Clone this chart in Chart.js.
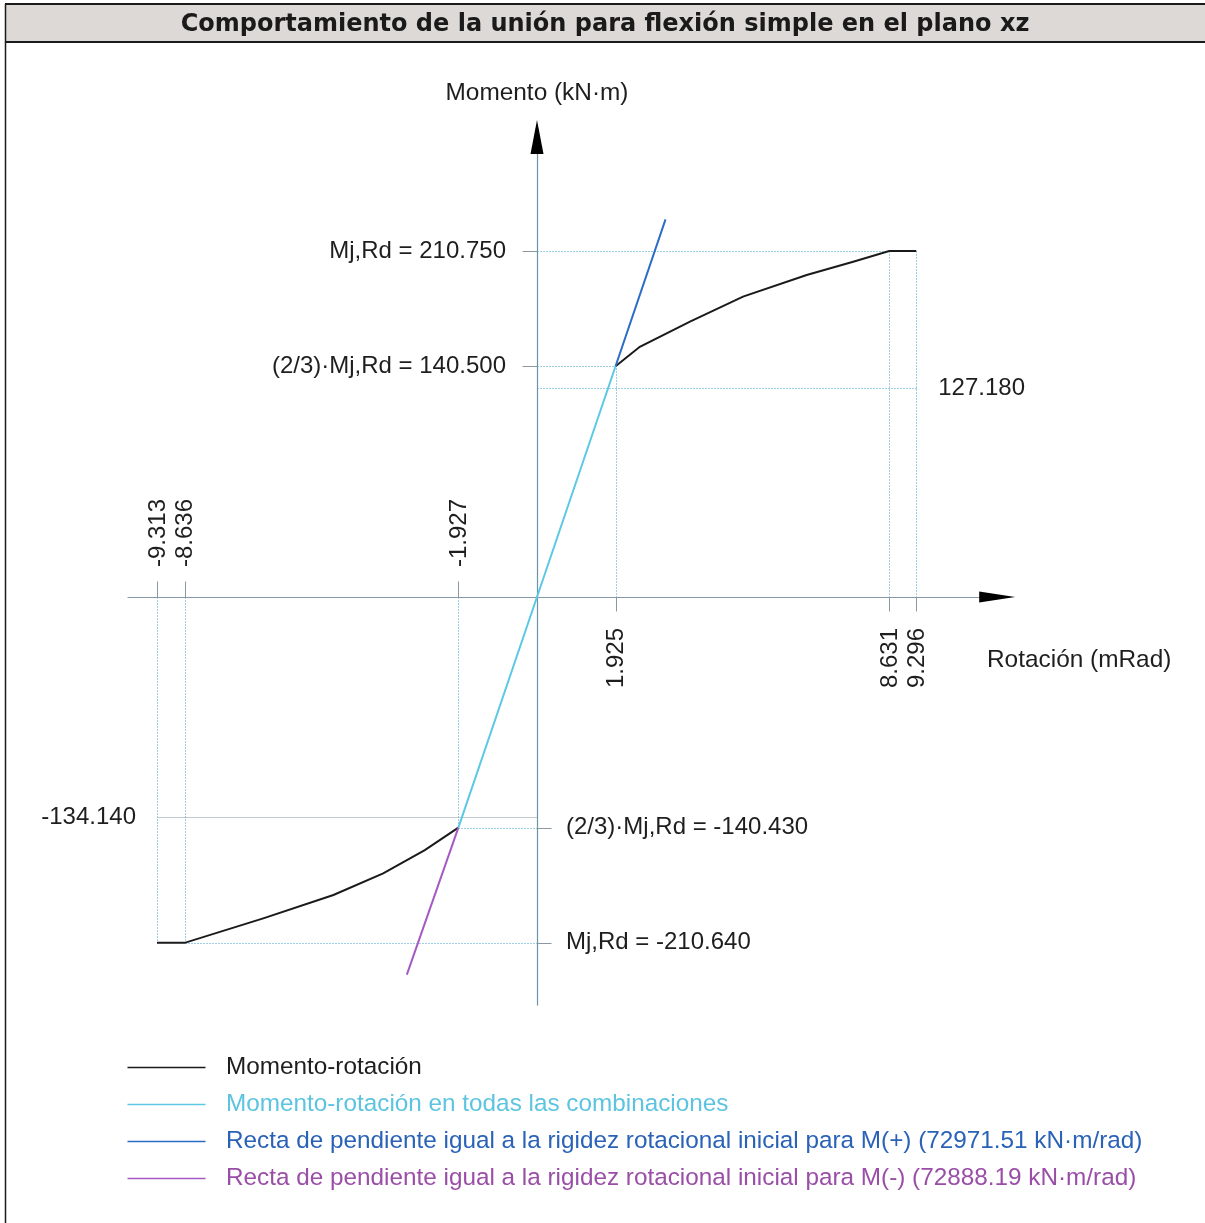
<!DOCTYPE html>
<html>
<head>
<meta charset="utf-8">
<script src="https://cdn.jsdelivr.net/npm/chart.js@4/dist/chart.umd.min.js"></script>
<style>
  html, body { margin: 0; padding: 0; background: #fff; overflow: hidden; }
  canvas { display: block; }
</style>
</head>
<body>
<canvas id="c" width="1205" height="1223"></canvas>
<script>
const titleText = 'Comportamiento de la unión para flexión simple en el plano xz';
const xAxisTitle = 'Rotación (mRad)';
const yAxisTitle = 'Momento (kN·m)';

// Moment–rotation curve (rotation in mRad, moment in kN·m)
const curvePosRot = [1.925, 2.52, 3.75, 5.05, 6.61, 7.75, 8.631, 9.296];
const curvePosMom = [140.5, 152.4, 167.7, 182.9, 196.1, 204.2, 210.75, 210.75];
const curveNegRot = [-1.927, -2.75, -3.77, -4.99, -6.71, -8.636, -9.313];
const curveNegMom = [-140.43, -154.2, -168.3, -181.5, -195.7, -210.64, -210.64];

// Elastic branch shared by all combinations
const elasticRot = [-1.927, 0, 1.925];
const elasticMom = [-140.43, 0, 140.5];

// Lines with slope equal to the initial rotational stiffness
const stiffPosRot = [1.925, 3.15];
const stiffPosMom = [140.5, 230.0];
const stiffNegRot = [-1.927, -3.19];
const stiffNegMom = [-140.43, -230.0];

// Rotation marks on the horizontal axis and the moment each one drops/rises to
const rotMarks = [-9.313, -8.636, -1.927, 1.925, 8.631, 9.296];
const rotMarkMoments = [-210.64, -210.64, -140.43, 140.5, 210.75, 210.75];

// Moment values marked on the vertical axis
const mjRdPos = 210.75;
const mjRd23Pos = 140.5;
const momPosElastic = 127.18;
const momNegElastic = -134.14;
const mjRd23Neg = -140.43;
const mjRdNeg = -210.64;

// Legend
const legendLabels = [
  'Momento-rotación',
  'Momento-rotación en todas las combinaciones',
  'Recta de pendiente igual a la rigidez rotacional inicial para M(+) (72971.51 kN·m/rad)',
  'Recta de pendiente igual a la rigidez rotacional inicial para M(-) (72888.19 kN·m/rad)'
];
const legendLineColors = ['#1a1a1a', '#5cc8e4', '#2b6cc6', '#a659c2'];
const legendTextColors = ['#1e1e1e', '#5cc4e0', '#2a62b8', '#9a4ea8'];

// Axis extents (data units)
const axisRotMin = -10.05, axisRotEnd = 11.72;
const axisMomMin = -248.5, axisMomEnd = 290.5;

const pts = (xs, ys) => xs.map((x, i) => ({ x: x, y: ys[i] }));

// pixel geometry of the plotting plane
const originX = 537, originY = 597;
const pxPerMRad = 40.8, pxPerKNm = 1.642;
const W = 1205, H = 1223;

const LABEL_FONT = '24px "Liberation Sans", Arial, sans-serif';
const AXIS_TITLE_FONT = '24.4px "Liberation Sans", Arial, sans-serif';
const LEGEND_FONT = '24.3px "Liberation Sans", Arial, sans-serif';
const guideBlue = '#3d9fc9';
const tickGray = '#8b98a2';

function dotted(ctx, x1, y1, x2, y2, color) {
  ctx.save();
  ctx.strokeStyle = color;
  ctx.lineWidth = 1;
  ctx.setLineDash([1, 2]);
  ctx.beginPath();
  ctx.moveTo(Math.round(x1) + 0.5, Math.round(y1) + 0.5);
  ctx.lineTo(Math.round(x2) + 0.5, Math.round(y2) + 0.5);
  ctx.stroke();
  ctx.restore();
}
function solid(ctx, x1, y1, x2, y2, color, w) {
  ctx.save();
  ctx.strokeStyle = color;
  ctx.lineWidth = w || 1;
  ctx.beginPath();
  ctx.moveTo(Math.round(x1) + 0.5, Math.round(y1) + 0.5);
  ctx.lineTo(Math.round(x2) + 0.5, Math.round(y2) + 0.5);
  ctx.stroke();
  ctx.restore();
}

const diagramPlugin = {
  id: 'diagram',
  beforeDatasetsDraw(chart) {
    const ctx = chart.ctx;
    const xs = chart.scales.x, ys = chart.scales.y;
    const X = v => xs.getPixelForValue(v);
    const Y = v => ys.getPixelForValue(v);
    const x0 = X(0), y0 = Y(0);

    // guide lines
    dotted(ctx, x0, Y(mjRdPos), X(8.631), Y(mjRdPos), guideBlue);
    dotted(ctx, x0, Y(mjRd23Pos), X(1.925), Y(mjRd23Pos), guideBlue);
    dotted(ctx, x0, Y(momPosElastic), X(9.296), Y(momPosElastic), guideBlue);
    solid(ctx, X(-9.313), Y(momNegElastic), x0, Y(momNegElastic), '#c3cad0');
    dotted(ctx, X(-1.927), Y(mjRd23Neg), x0, Y(mjRd23Neg), guideBlue);
    dotted(ctx, X(-8.636), Y(mjRdNeg), x0, Y(mjRdNeg), guideBlue);
    rotMarks.forEach((r, i) => dotted(ctx, X(r), y0, X(r), Y(rotMarkMoments[i]), guideBlue));

    // ticks beside the value labels
    solid(ctx, x0 - 15, Y(mjRdPos), x0, Y(mjRdPos), tickGray);
    solid(ctx, x0 - 15, Y(mjRd23Pos), x0, Y(mjRd23Pos), tickGray);
    solid(ctx, x0, Y(mjRd23Neg), x0 + 14, Y(mjRd23Neg), tickGray);
    solid(ctx, x0, Y(mjRdNeg), x0 + 14, Y(mjRdNeg), tickGray);
    rotMarks.forEach(r => {
      if (r < 0) solid(ctx, X(r), y0 - 16, X(r), y0, tickGray);
      else solid(ctx, X(r), y0, X(r), y0 + 14, tickGray);
    });

    // axes
    solid(ctx, X(axisRotMin), y0, X(axisRotEnd) - 30, y0, '#8898a4', 1.2);
    solid(ctx, x0, Y(axisMomMin), x0, Y(axisMomEnd) + 30, '#6b93aa', 1.2);
  },
  afterDatasetsDraw(chart) {
    const ctx = chart.ctx;
    const xs = chart.scales.x, ys = chart.scales.y;
    const X = v => xs.getPixelForValue(v);
    const Y = v => ys.getPixelForValue(v);
    const x0 = X(0), y0 = Y(0);

    // arrow heads
    ctx.save();
    ctx.fillStyle = '#000';
    const xe = X(axisRotEnd);
    ctx.beginPath();
    ctx.moveTo(xe, y0);
    ctx.lineTo(xe - 36, y0 - 5.5);
    ctx.lineTo(xe - 36, y0 + 5.5);
    ctx.closePath();
    ctx.fill();
    const ye = Y(axisMomEnd);
    ctx.beginPath();
    ctx.moveTo(x0, ye);
    ctx.lineTo(x0 - 6.5, ye + 34);
    ctx.lineTo(x0 + 6.5, ye + 34);
    ctx.closePath();
    ctx.fill();
    ctx.restore();

    // texts
    ctx.save();
    ctx.fillStyle = '#1e1e1e';
    ctx.font = LABEL_FONT;
    ctx.textBaseline = 'middle';

    ctx.textAlign = 'right';
    ctx.fillText('Mj,Rd = ' + mjRdPos.toFixed(3), x0 - 31, Y(mjRdPos));
    ctx.fillText('(2/3)·Mj,Rd = ' + mjRd23Pos.toFixed(3), x0 - 31, Y(mjRd23Pos));
    ctx.fillText(momNegElastic.toFixed(3), X(-9.313) - 21, Y(momNegElastic));

    ctx.textAlign = 'left';
    ctx.fillText(momPosElastic.toFixed(3), X(9.296) + 22, Y(momPosElastic));
    ctx.fillText('(2/3)·Mj,Rd = ' + mjRd23Neg.toFixed(3), x0 + 29, Y(mjRd23Neg));
    ctx.fillText('Mj,Rd = ' + mjRdNeg.toFixed(3), x0 + 29, Y(mjRdNeg));

    // rotated rotation labels
    rotMarks.forEach(r => {
      ctx.save();
      if (r < 0) {
        ctx.translate(X(r), y0 - 30);
        ctx.rotate(-Math.PI / 2);
        ctx.textAlign = 'left';
      } else {
        ctx.translate(X(r), y0 + 31);
        ctx.rotate(-Math.PI / 2);
        ctx.textAlign = 'right';
      }
      ctx.fillText(r.toFixed(3), 0, 1);
      ctx.restore();
    });

    // axis titles
    ctx.font = AXIS_TITLE_FONT;
    ctx.textAlign = 'center';
    ctx.fillText(yAxisTitle, x0, 93);
    ctx.textAlign = 'left';
    ctx.fillText(xAxisTitle, 987, y0 + 63);
    ctx.restore();

    // title bar and frame
    ctx.save();
    ctx.fillStyle = '#dcd9d6';
    ctx.fillRect(5, 4, W - 5, 38);
    ctx.strokeStyle = '#1a1a1a';
    ctx.lineWidth = 2;
    ctx.beginPath();
    ctx.moveTo(5, 4); ctx.lineTo(W, 4);
    ctx.moveTo(5, 42); ctx.lineTo(W, 42);
    ctx.stroke();
    ctx.lineWidth = 1.5;
    ctx.beginPath();
    ctx.moveTo(5.5, 4); ctx.lineTo(5.5, H);
    ctx.stroke();
    ctx.fillStyle = '#1a1a1a';
    ctx.font = 'bold 24px "DejaVu Sans", Verdana, sans-serif';
    ctx.textAlign = 'center';
    ctx.textBaseline = 'middle';
    ctx.fillText(titleText, 605, 25);
    ctx.restore();

    // legend
    ctx.save();
    ctx.font = LEGEND_FONT;
    ctx.textAlign = 'left';
    ctx.textBaseline = 'middle';
    legendLabels.forEach((lab, i) => {
      const ly = 1067 + i * 37;
      solid(ctx, 127, ly, 205, ly, legendLineColors[i], 1.6);
      ctx.fillStyle = legendTextColors[i];
      ctx.fillText(lab, 226, ly);
    });
    ctx.restore();
  }
};

const lineDs = (data, color) => ({
  data: data,
  showLine: true,
  borderColor: color,
  borderWidth: 2,
  pointRadius: 0,
  pointHoverRadius: 0,
  fill: false,
  tension: 0
});

new Chart(document.getElementById('c'), {
  type: 'scatter',
  data: {
    datasets: [
      lineDs(pts(elasticRot, elasticMom), legendLineColors[1]),
      lineDs(pts(stiffPosRot, stiffPosMom), legendLineColors[2]),
      lineDs(pts(stiffNegRot, stiffNegMom), legendLineColors[3]),
      lineDs(pts(curvePosRot, curvePosMom), legendLineColors[0]),
      lineDs(pts(curveNegRot, curveNegMom), legendLineColors[0])
    ]
  },
  options: {
    responsive: false,
    maintainAspectRatio: false,
    animation: false,
    events: [],
    layout: { padding: 0 },
    plugins: { legend: { display: false }, title: { display: false }, tooltip: { enabled: false } },
    scales: {
      x: { type: 'linear', display: false, min: -originX / pxPerMRad, max: (W - originX) / pxPerMRad },
      y: { type: 'linear', display: false, min: -(H - originY) / pxPerKNm, max: originY / pxPerKNm }
    }
  },
  plugins: [diagramPlugin]
});
</script>
</body>
</html>
